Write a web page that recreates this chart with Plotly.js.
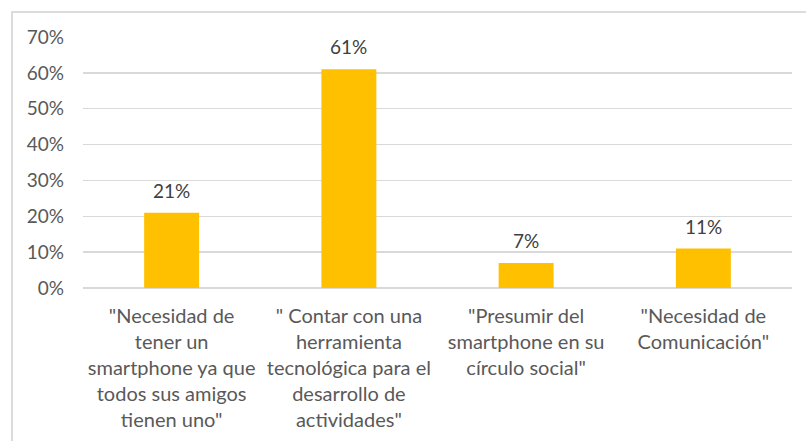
<!DOCTYPE html>
<html>
<head>
<meta charset="utf-8">
<script src="https://cdn.plot.ly/plotly-3.0.1.min.js"></script>
<style>
html,body{margin:0;padding:0;background:#fff;}
#frame{position:absolute;left:11px;top:11px;width:820px;height:460px;border-left:2px solid #dcdcdc;border-top:2px solid #dcdcdc;}
#chart{position:absolute;left:0;top:0;width:806px;height:441px;}
</style>
</head>
<body>
<div id="frame"></div>
<div id="chart"></div>
<script>
const categories = [
  '"Necesidad de<br>tener un<br>smartphone ya que<br>todos sus amigos<br>tienen uno"',
  '" Contar con una<br>herramienta<br>tecnológica para el<br>desarrollo de<br>actividades"',
  '"Presumir del<br>smartphone en su<br>círculo social"',
  '"Necesidad de<br>Comunicación"'
];
const values = [0.21, 0.61, 0.07, 0.11];
const valueLabels = ['21%', '61%', '7%', '11%'];
const yTicks = [0, 0.1, 0.2, 0.3, 0.4, 0.5, 0.6, 0.7];
const yTickLabels = ['0%', '10%', '20%', '30%', '40%', '50%', '60%', '70%'];

const FONT = 'Lato, "Open Sans", sans-serif';

const trace = {
  type: 'bar',
  x: categories,
  y: values,
  marker: {color: '#FFC000'},
  width: 0.31,
  hoverinfo: 'none'
};

const annotations = categories.map((c, i) => ({
  x: c,
  y: values[i],
  xref: 'x',
  yref: 'y',
  text: valueLabels[i],
  showarrow: false,
  yanchor: 'bottom',
  yshift: 9,
  font: {family: FONT, size: 19, color: '#404040'}
}));

const layout = {
  width: 806,
  height: 441,
  margin: {l: 83, r: 14, t: 37, b: 153},
  paper_bgcolor: 'rgba(0,0,0,0)',
  plot_bgcolor: 'rgba(0,0,0,0)',
  showlegend: false,
  bargap: 0.69,
  font: {family: FONT, color: '#595959'},
  annotations: annotations,
  xaxis: {
    type: 'category',
    showgrid: false,
    zeroline: false,
    showline: false,
    ticks: '',
    tickangle: 0,
    ticklabelstandoff: 14,
    tickfont: {family: FONT, size: 20, color: '#595959'},
    automargin: false
  },
  yaxis: {
    range: [0, 0.7],
    tickvals: yTicks,
    ticktext: yTickLabels,
    showgrid: true,
    gridcolor: '#d9d9d9',
    gridwidth: 1.5,
    zeroline: true,
    zerolinecolor: '#d9d9d9',
    zerolinewidth: 1.5,
    showline: false,
    ticks: '',
    ticklabelstandoff: 18,
    tickfont: {family: FONT, size: 19, color: '#595959'},
    automargin: false
  }
};

Plotly.newPlot('chart', [trace], layout, {displayModeBar: false, staticPlot: true});
</script>
</body>
</html>
